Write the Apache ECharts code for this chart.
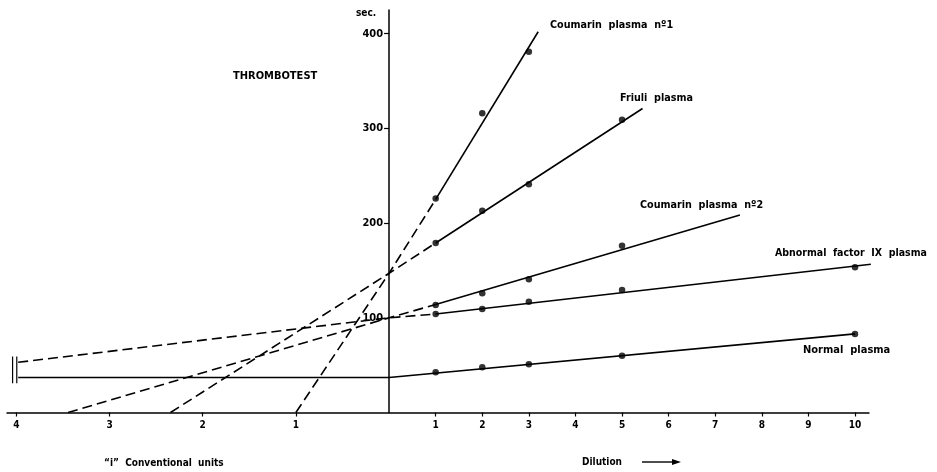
<!DOCTYPE html>
<html>
<head>
<meta charset="utf-8">
<script src="https://cdn.jsdelivr.net/npm/echarts@6/dist/echarts.min.js"></script>
<style>
html,body{margin:0;padding:0;background:#fff;}
#chart{width:937px;height:472px;}
</style>
</head>
<body>
<div id="chart"></div>
<script>
// ---- data (x: dilution; negative x = "i" conventional units * 2) ----
const xTickValues = [-8, -6, -4, -2, 1, 2, 3, 4, 5, 6, 7, 8, 9, 10];
const yTickValues = [100, 200, 300, 400];

const coumarin1Points = [[1, 226], [2, 316], [3, 381]];
const coumarin1Dashed = [[-2, 0], [0, 147], [1, 225]];
const coumarin1Solid = [[1, 225], [3.2, 402]];

const friuliPoints = [[1, 179], [2, 213], [3, 241], [5, 309]];
const friuliDashed = [[-4.69, 0], [0, 147], [1, 179]];
const friuliSolid = [[1, 179], [5.44, 321]];

const coumarin2Points = [[1, 113.5], [2, 126], [3, 140.6], [5, 176]];
const coumarin2Dashed = [[-6.89, 0], [0, 100], [1, 114]];
const coumarin2Solid = [[1, 114], [7.53, 208.5]];

const abnormalPoints = [[1, 104], [2, 109.3], [3, 117], [5, 129.4], [10, 153.3]];
const abnormalDashed = [[-7.96, 53], [0, 100], [1, 104]];
const abnormalSolid = [[1, 104], [10.34, 156.5]];

const normalPoints = [[1, 42.4], [2, 47.7], [3, 50.9], [5, 60], [10, 82.9]];
const normalSolid = [[-7.96, 37], [0, 37], [10, 83]];

const breakMarkA = [[-8.08, 31], [-8.08, 59]];
const breakMarkB = [[-7.99, 31], [-7.99, 59]];

const X_MIN = -8.2, X_MAX = 10.3;
const GRID_LEFT = 7, GRID_WIDTH = 862;
const FONT = '"DejaVu Sans Condensed", "Liberation Sans Narrow", sans-serif';

function lineSeries(data, dashed, width) {
  return {
    type: 'line', data: data, symbol: 'none', silent: true,
    lineStyle: { color: '#000', width: width || 1.6, type: dashed ? [10, 5] : 'solid' },
    z: 2
  };
}
function pointSeries(data) {
  return {
    type: 'scatter', data: data, symbol: 'circle', symbolSize: 6.5, silent: true,
    itemStyle: { color: '#000' }, z: 3
  };
}
function txt(text, x, y, size, align) {
  return {
    type: 'text', x: x, y: y, silent: true,
    style: {
      text: text, fill: '#000', fontFamily: FONT, fontWeight: 'bold',
      fontSize: size || 10, align: align || 'left', verticalAlign: 'middle'
    }
  };
}

// y-axis sits at x = 0 of the x scale
const yAxisOffset = -(0 - X_MIN) / (X_MAX - X_MIN) * GRID_WIDTH;

const chart = echarts.init(document.getElementById('chart'));
chart.setOption({
  animation: false,
  backgroundColor: '#fff',
  grid: { left: GRID_LEFT, width: GRID_WIDTH, top: 10, height: 402.5, containLabel: false, outerBoundsMode: 'none' },
  xAxis: {
    type: 'value', min: X_MIN, max: X_MAX,
    axisLine: { onZero: false, lineStyle: { color: '#000', width: 1.5 } },
    splitLine: { show: false },
    axisTick: { customValues: xTickValues, length: 4, lineStyle: { color: '#000', width: 1.2 } },
    axisLabel: {
      customValues: xTickValues, margin: 8, color: '#000', fontFamily: FONT,
      fontWeight: 'bold', fontSize: 10,
      formatter: function (v) { return v < 0 ? String(-v / 2) : String(v); }
    }
  },
  yAxis: {
    type: 'value', min: 0, max: 425, position: 'left', offset: yAxisOffset,
    axisLine: { onZero: false, lineStyle: { color: '#000', width: 1.5 } },
    splitLine: { show: false },
    axisTick: { customValues: yTickValues, length: 5, lineStyle: { color: '#000', width: 1.2 } },
    axisLabel: {
      customValues: yTickValues, margin: 6, color: '#000', fontFamily: FONT,
      fontWeight: 'bold', fontSize: 11
    }
  },
  series: [
    lineSeries(coumarin1Dashed, true), lineSeries(coumarin1Solid, false), pointSeries(coumarin1Points),
    lineSeries(friuliDashed, true), lineSeries(friuliSolid, false), pointSeries(friuliPoints),
    lineSeries(coumarin2Dashed, true), lineSeries(coumarin2Solid, false), pointSeries(coumarin2Points),
    lineSeries(abnormalDashed, true), lineSeries(abnormalSolid, false), pointSeries(abnormalPoints),
    lineSeries(normalSolid, false), pointSeries(normalPoints),
    lineSeries(breakMarkA, false, 1.2), lineSeries(breakMarkB, false, 1.2)
  ],
  graphic: [
    txt('sec.', 356, 13, 10),
    txt('THROMBOTEST', 233, 76, 11),
    txt('Coumarin  plasma  nº1', 550, 25, 10.7),
    txt('Friuli  plasma', 620, 98, 10.7),
    txt('Coumarin  plasma  nº2', 640, 205, 10.7),
    txt('Abnormal  factor  IX  plasma', 775, 253, 10.5),
    txt('Normal  plasma', 803, 350, 11),
    txt('“i”  Conventional  units', 104, 463, 10),
    txt('Dilution', 582, 462, 10),
    { type: 'line', silent: true, shape: { x1: 642, y1: 462, x2: 674, y2: 462 }, style: { stroke: '#000', lineWidth: 1.4 } },
    { type: 'polygon', silent: true, shape: { points: [[681, 462], [672, 459], [672, 465]] }, style: { fill: '#000' } }
  ]
});
</script>
</body>
</html>
